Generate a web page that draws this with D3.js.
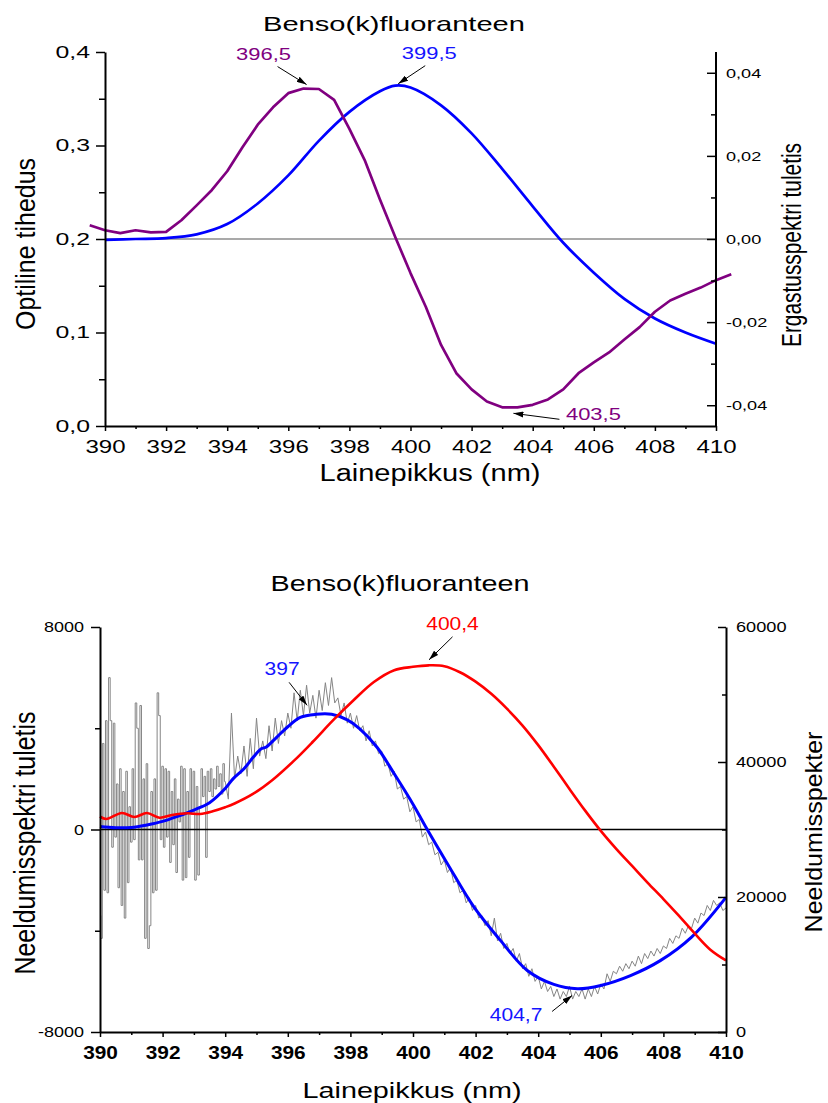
<!DOCTYPE html>
<html>
<head>
<meta charset="utf-8">
<script src="https://cdn.jsdelivr.net/npm/d3@7"></script>
<style>
  body { margin: 0; background: #fff; }
  text { font-family: "Liberation Sans", Arial, sans-serif; }
</style>
</head>
<body>
<script>
// ---------- Top chart data ----------
// Absorption (optical density), left axis
const absWave = [390, 391, 392, 393, 394, 395, 396, 397, 398, 399, 399.5, 400, 401, 402, 403, 404, 405, 406, 407, 408, 409, 410];
const absValue = [0.199, 0.200, 0.201, 0.205, 0.216, 0.238, 0.268, 0.305, 0.336, 0.358, 0.364, 0.362, 0.343, 0.313, 0.275, 0.235, 0.196, 0.164, 0.136, 0.115, 0.100, 0.088];
// Excitation spectrum derivative, right axis (every 0.5 nm)
const exWave = [389.5, 390, 390.5, 391, 391.5, 392, 392.5, 393, 393.5, 394, 394.5, 395, 395.5, 396, 396.5, 397, 397.5, 398, 398.5, 399, 399.5, 400, 400.5, 401, 401.5, 402, 402.5, 403, 403.5, 404, 404.5, 405, 405.5, 406, 406.5, 407, 407.5, 408, 408.5, 409, 409.5, 410, 410.5];
const exValue = [0.0033, 0.0021, 0.0014, 0.0021, 0.0016, 0.0017, 0.0045, 0.0081, 0.0118, 0.0163, 0.0221, 0.0275, 0.0317, 0.0351, 0.0362, 0.0361, 0.0335, 0.0265, 0.0190, 0.0095, 0.0005, -0.0082, -0.0163, -0.0255, -0.0323, -0.0362, -0.0391, -0.0405, -0.0405, -0.0399, -0.0386, -0.0362, -0.0323, -0.0297, -0.0273, -0.0242, -0.0212, -0.0175, -0.0148, -0.0132, -0.0117, -0.0099, -0.0085];
const topLeftTicks = [0, 0.1, 0.2, 0.3, 0.4];
const topLeftMinor = [0.05, 0.15, 0.25, 0.35];
const topRightTicks = [-0.04, -0.02, 0, 0.02, 0.04];
const topRightMinor = [-0.03, -0.01, 0.01, 0.03];
const topPeaks = [
  { label: "396,5", wave: 396.5, value: 0.0362, axis: "right", color: "#800080" },
  { label: "399,5", wave: 399.5, value: 0.364, axis: "left", color: "#1414ff" },
  { label: "403,5", wave: 403.5, value: -0.0405, axis: "right", color: "#800080" }
];

// ---------- Bottom chart data ----------
// Emission spectrum, right axis
const emWave = [390.0, 390.2, 390.7, 391.1, 391.5, 391.9, 392.3, 392.8, 393.2, 393.6, 394.0, 394.3, 394.9, 395.5, 396.2, 396.8, 397.45, 398.1, 398.75, 399.4, 400.0, 400.5, 401.0, 401.5, 402.0, 402.5, 403.0, 403.5, 404.0, 404.5, 405.0, 405.5, 406.0, 406.5, 407.0, 407.5, 408.0, 408.5, 409.0, 409.5, 410.0];
const emValue = [31900, 31550, 32450, 31850, 32450, 31750, 32150, 32400, 32300, 32700, 33300, 33850, 35300, 37300, 40200, 43000, 46200, 49150, 51850, 53600, 54100, 54320, 54200, 53300, 51900, 50100, 47900, 45400, 42500, 39300, 36000, 32800, 29800, 27100, 24600, 22100, 19700, 17200, 14600, 12200, 10600];
// Smoothed derivative, left axis
const smoothWave = [390.0, 390.5, 391.0, 391.5, 392.0, 392.5, 393.0, 393.5, 394.0, 394.25, 394.6, 394.9, 395.15, 395.3, 395.65, 396.0, 396.4, 396.9, 397.4, 397.9, 398.3, 398.85, 399.4, 400.0, 400.4, 401.1, 401.95, 402.8, 403.65, 404.5, 405.25, 406.0, 406.95, 407.9, 408.9, 410.0];
const smoothValue = [120, 70, 80, 180, 320, 530, 770, 1060, 1620, 2000, 2400, 2860, 3190, 3250, 3650, 4060, 4430, 4550, 4550, 4330, 3980, 3250, 2200, 1000, 120, -1350, -3070, -4390, -5570, -6120, -6290, -6160, -5770, -5180, -4250, -2680];
// Raw derivative, 390.00-394.00 every 0.05 nm
const rawNoisy = [-3400, -4300, 3400, -2400, 4300, -2500, 6000, 4300, -700, 4200,
  -300, 1800, -2300, 2400, -3000, 1500, -3500, 2300, -2100, 900,
  -500, 2400, -400, 5000, 4000, -1200, 4900, -1200, 2000, -4300,
  2600, -4700, -3800, 1500, -2500, 2000, -2400, 5400, 4500, -400,
  2500, -700, 2400, -300, 2300, -1300, 1500, -600, 2000, -1700,
  1200, 300, 2500, -2000, 2400, -1900, 1500, -1100, 2400, 600,
  2300, -2000, 1700, -1800, 900, 2400, 1300, 2100, -1100, 2300,
  1500, 2400, 1300, 2000, 1600, 2500, 1700, 2200, 1400, 2600,
  1900];
// Raw derivative, 394.0-410.0 every 0.1 nm
const rawTail = [1900, 1200, 4600, 2000, 2900, 2200, 3300, 2100, 3600, 2400,
  4400, 2900, 3500, 2800, 4100, 3100, 4400, 3400, 4300, 3700,
  4600, 4000, 5400, 4300, 5500, 4500, 5700, 4600, 5300, 4400,
  5500, 4700, 5800, 4900, 6000, 5000, 5200, 4500, 5000, 4200,
  4600, 4000, 4500, 3900, 4100, 3500, 3900, 3300, 3500, 3000,
  3100, 2500, 2600, 2100, 2300, 1600, 1700, 1200, 1300, 700,
  900, 300, 400, -300, -100, -600, -500, -1000, -900, -1400,
  -1200, -1700, -1500, -2100, -2000, -2500, -2400, -2900, -2700, -3200,
  -3000, -3500, -3400, -3800, -3600, -4200, -3500, -4400, -4100, -4700,
  -4500, -4900, -4700, -5200, -4900, -5500, -5300, -5800, -5500, -6000,
  -5800, -6300, -6000, -6400, -6200, -6600, -6300, -6700, -6400, -6600,
  -6200, -6700, -6400, -6600, -6300, -6700, -6300, -6600, -6200, -6500,
  -6100, -6300, -5700, -6000, -5600, -5700, -5400, -5600, -5300, -5500,
  -5200, -5400, -5000, -5300, -4900, -5100, -4800, -5000, -4700, -4900,
  -4600, -4700, -4300, -4500, -4200, -4300, -3900, -4100, -3800, -3900,
  -3500, -3700, -3300, -3400, -3000, -3200, -2800, -3000, -2900, -3200,
  -3100];
const botLeftTicks = [-8000, 0, 8000];
const botLeftMinor = [-4000, 4000];
const botRightTicks = [0, 20000, 40000, 60000];
const botRightMinor = [10000, 30000, 50000];
const botPeaks = [
  { label: "397", wave: 397, value: 4550, axis: "left", color: "#1414ff" },
  { label: "400,4", wave: 400.4, value: 54250, axis: "right", color: "#ff0000" },
  { label: "404,7", wave: 404.7, value: -6200, axis: "left", color: "#1414ff" }
];

const xTicks = [390, 392, 394, 396, 398, 400, 402, 404, 406, 408, 410];
const xMinor = [391, 393, 395, 397, 399, 401, 403, 405, 407, 409];

// Creating svg
const svg = d3.select("body").append("svg")
  .attr("width", 828)
  .attr("height", 1103);

// Arrow head for the peak labels
svg.append("defs").append("marker")
  .attr("id", "arrow")
  .attr("viewBox", "0 0 10 6")
  .attr("refX", 10).attr("refY", 3)
  .attr("markerWidth", 10).attr("markerHeight", 6)
  .attr("markerUnits", "userSpaceOnUse")
  .attr("orient", "auto")
  .append("path").attr("d", "M0,0L10,3L0,6z").attr("fill", "#000");

// The picture is stretched sideways, so text is widened to match
function stretch(sel, sx) {
  sel.each(function () {
    const len = this.getComputedTextLength();
    d3.select(this).attr("textLength", len * sx).attr("lengthAdjust", "spacingAndGlyphs");
  });
}

function label(x, y, str, size, width, color, extra) {
  const t = svg.append("text")
    .attr("x", x).attr("y", y)
    .attr("text-anchor", "middle")
    .attr("font-size", size)
    .attr("fill", color || "#000")
    .text(str);
  if (extra) t.attr("transform", extra);
  if (width) t.attr("textLength", width).attr("lengthAdjust", "spacingAndGlyphs");
  return t;
}

function styleAxis(g, size, sx, weight) {
  g.attr("font-family", null).attr("font-size", null);
  g.select(".domain").attr("stroke-width", 2);
  g.selectAll(".tick line").attr("stroke-width", 1.5);
  g.selectAll("text")
    .attr("font-size", size)
    .attr("font-weight", weight || "normal")
    .attr("fill", "#000");
  stretch(g.selectAll("text"), sx);
}

function minorAxis(g, axis) {
  g.call(axis.tickFormat(""));
  g.select(".domain").remove();
  g.selectAll(".tick line").attr("stroke-width", 1.5);
}

const comma = f => d => d3.format(f)(d).replace(".", ",").replace("\u2212", "-");

function annotate(peaks, x, yL, yR, offs, size, sx) {
  peaks.forEach((p, i) => {
    const px = x(p.wave);
    const py = p.axis === "left" ? yL(p.value) : yR(p.value);
    const o = offs[i];
    svg.append("line")
      .attr("x1", px + o.tail[0]).attr("y1", py + o.tail[1])
      .attr("x2", px + o.tip[0]).attr("y2", py + o.tip[1])
      .attr("stroke", "#000").attr("stroke-width", 1)
      .attr("marker-end", "url(#arrow)");
    const t = svg.append("text")
      .attr("x", px + o.text[0]).attr("y", py + o.text[1])
      .attr("text-anchor", "middle")
      .attr("font-size", size)
      .attr("fill", p.color)
      .text(p.label);
    stretch(t, sx);
  });
}

// ================= Top chart =================
const x1 = d3.scaleLinear().domain([390, 410]).range([105, 716]);
const y1L = d3.scaleLinear().domain([0, 0.4]).range([426, 52]);
const y1R = d3.scaleLinear().domain([-0.045, 0.045]).range([426, 52]);

// Zero line
svg.append("line")
  .attr("x1", x1(390)).attr("x2", x1(410))
  .attr("y1", y1R(0)).attr("y2", y1R(0))
  .attr("stroke", "#555").attr("stroke-width", 1.2);

// Curves
svg.append("path")
  .datum(absWave.map((w, i) => [w, absValue[i]]))
  .attr("fill", "none").attr("stroke", "#0000ff").attr("stroke-width", 2.7)
  .attr("d", d3.line().x(d => x1(d[0])).y(d => y1L(d[1])).curve(d3.curveCatmullRom));
svg.append("path")
  .datum(exWave.map((w, i) => [w, exValue[i]]))
  .attr("fill", "none").attr("stroke", "#800080").attr("stroke-width", 2.7)
  .attr("stroke-linejoin", "round")
  .attr("d", d3.line().x(d => x1(d[0])).y(d => y1R(d[1])));

// Axes
const t1x = svg.append("g").attr("transform", "translate(0,426)")
  .call(d3.axisBottom(x1).tickValues(xTicks).tickSize(5).tickSizeOuter(0).tickPadding(9).tickFormat(d3.format("d")));
styleAxis(t1x, 18.5, 1.3);
minorAxis(svg.append("g").attr("transform", "translate(0,426)"), d3.axisBottom(x1).tickValues(xMinor).tickSize(3));

const t1l = svg.append("g").attr("transform", "translate(105,0)")
  .call(d3.axisLeft(y1L).tickValues(topLeftTicks).tickSize(9).tickSizeOuter(0).tickPadding(6).tickFormat(comma(".1f")));
styleAxis(t1l, 16, 1.55);
minorAxis(svg.append("g").attr("transform", "translate(105,0)"), d3.axisLeft(y1L).tickValues(topLeftMinor).tickSize(6));

const t1r = svg.append("g").attr("transform", "translate(716,0)")
  .call(d3.axisRight(y1R).tickValues(topRightTicks).tickSizeInner(-9).tickSizeOuter(0).tickPadding(10).tickFormat(comma(".2f")));
t1r.select(".domain").attr("d", `M0,${y1L(0.4)}V${y1L(0)}`);
styleAxis(t1r, 13.5, 1.34);
minorAxis(svg.append("g").attr("transform", "translate(716,0)"), d3.axisRight(y1R).tickValues(topRightMinor).tickSizeInner(-5).tickSizeOuter(0));

// Titles
label(394, 31, "Benso(k)fluoranteen", 21, 262);
label(430, 481, "Lainepikkus (nm)", 23, 221);
label(0, 0, "Optiline tihedus", 24, 172, "#000", "translate(35,244) scale(1.15,1) rotate(-90)");
label(0, 0, "Ergastusspektri tuletis", 21, 204, "#000", "translate(801,245) scale(1.3,1) rotate(-90)");

annotate(topPeaks, x1, y1L, y1R, [
  { tail: [-26, -22], tip: [3, -4], text: [-40, -29] },
  { tail: [30, -20], tip: [3, -2], text: [34, -27] },
  { tail: [42, 12], tip: [-4, 6], text: [76, 13] }
], 15.8, 1.39);

// ================= Bottom chart =================
const x2 = d3.scaleLinear().domain([390, 410]).range([100, 726]);
const y2L = d3.scaleLinear().domain([-8000, 8000]).range([1032, 627]);
const y2R = d3.scaleLinear().domain([0, 60000]).range([1032, 627]);

// Raw noisy derivative (gray): spiky start drawn as steps, the rest as a plain line
const rawLine = d3.line().x(d => x2(d[0])).y(d => y2L(d[1]));
svg.append("path")
  .datum(rawNoisy.map((v, i) => [390 + i * 0.05, v]))
  .attr("fill", "none").attr("stroke", "#858585").attr("stroke-width", 1)
  .attr("d", rawLine.curve(d3.curveStep));
svg.append("path")
  .datum(rawTail.map((v, i) => [394 + i * 0.1, v]))
  .attr("fill", "none").attr("stroke", "#858585").attr("stroke-width", 1)
  .attr("d", rawLine.curve(d3.curveLinear));

// Zero line
svg.append("line")
  .attr("x1", x2(390)).attr("x2", x2(410))
  .attr("y1", y2L(0)).attr("y2", y2L(0))
  .attr("stroke", "#000").attr("stroke-width", 1.6);

svg.append("path")
  .datum(smoothWave.map((w, i) => [w, smoothValue[i]]))
  .attr("fill", "none").attr("stroke", "#0000ff").attr("stroke-width", 3)
  .attr("d", d3.line().x(d => x2(d[0])).y(d => y2L(d[1])).curve(d3.curveCatmullRom));
svg.append("path")
  .datum(emWave.map((w, i) => [w, emValue[i]]))
  .attr("fill", "none").attr("stroke", "#ff0000").attr("stroke-width", 2.6)
  .attr("d", d3.line().x(d => x2(d[0])).y(d => y2R(d[1])).curve(d3.curveCatmullRom));

// Axes
const b2x = svg.append("g").attr("transform", "translate(0,1032)")
  .call(d3.axisBottom(x2).tickValues(xTicks).tickSize(5).tickSizeOuter(0).tickPadding(9).tickFormat(d3.format("d")));
styleAxis(b2x, 18.6, 1.12, "bold");
minorAxis(svg.append("g").attr("transform", "translate(0,1032)"), d3.axisBottom(x2).tickValues(xMinor).tickSize(3));

const b2l = svg.append("g").attr("transform", "translate(100,0)")
  .call(d3.axisLeft(y2L).tickValues(botLeftTicks).tickSize(9).tickSizeOuter(0).tickPadding(7).tickFormat(comma("d")));
styleAxis(b2l, 15, 1.2);
minorAxis(svg.append("g").attr("transform", "translate(100,0)"), d3.axisLeft(y2L).tickValues(botLeftMinor).tickSize(5));

const b2r = svg.append("g").attr("transform", "translate(726,0)")
  .call(d3.axisRight(y2R).tickValues(botRightTicks).tickSizeInner(-8).tickSizeOuter(0).tickPadding(10).tickFormat(d3.format("d")));
styleAxis(b2r, 15.4, 1.18);
minorAxis(svg.append("g").attr("transform", "translate(726,0)"), d3.axisRight(y2R).tickValues(botRightMinor).tickSizeInner(-4).tickSizeOuter(0));

// Titles
label(400, 591, "Benso(k)fluoranteen", 22, 259);
label(412, 1098, "Lainepikkus (nm)", 22.5, 219);
label(0, 0, "Neeldumisspektri tuletis", 24.5, 263, "#000", "translate(35,843) scale(1.2,1) rotate(-90)");
label(0, 0, "Neeldumisspekter", 24, 201, "#000", "translate(822,832) rotate(-90)");

annotate(botPeaks, x2, y2L, y2R, [
  { tail: [-30, -32], tip: [-12, -9], text: [-37, -39] },
  { tail: [27, -29], tip: [3.5, -6], text: [27, -36] },
  { tail: [-8, 25], tip: [12, 9], text: [-44, 35] }
], 18.6, 1.13);
</script>
</body>
</html>
